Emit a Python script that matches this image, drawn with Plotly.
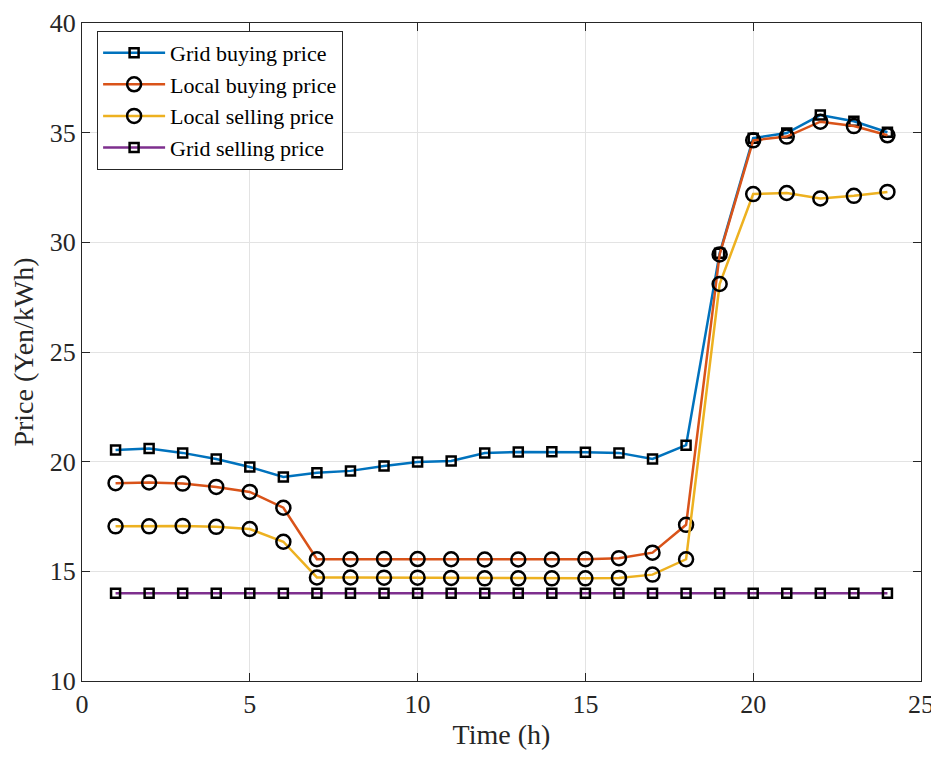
import plotly.graph_objects as go

hours = list(range(1, 25))
grid_buying = [20.53, 20.6, 20.4, 20.12, 19.76, 19.3, 19.49, 19.58, 19.8, 19.98, 20.03, 20.39,
               20.44, 20.45, 20.43, 20.4, 20.12, 20.75, 29.5, 34.75, 34.98, 35.8, 35.52, 35.02]
local_buying = [19.02, 19.05, 19.0, 18.85, 18.62, 17.9, 15.55, 15.55, 15.56, 15.56, 15.55, 15.54,
                15.54, 15.54, 15.55, 15.6, 15.85, 17.12, 29.45, 34.65, 34.82, 35.5, 35.3, 34.88]
local_selling = [17.05, 17.05, 17.07, 17.03, 16.93, 16.35, 14.72, 14.72, 14.71, 14.71, 14.7, 14.68,
                 14.68, 14.68, 14.68, 14.7, 14.85, 15.55, 28.1, 32.2, 32.25, 32.0, 32.12, 32.3]
grid_selling = [14.0] * 24

series = [
    ("Grid buying price", grid_buying, "#0072BD", "square-open", 9),
    ("Local buying price", local_buying, "#D95319", "circle-open", 14),
    ("Local selling price", local_selling, "#EDB120", "circle-open", 14),
    ("Grid selling price", grid_selling, "#7E2F8E", "square-open", 9),
]

fig = go.Figure()
for name, vals, color, sym, size in series:
    fig.add_trace(go.Scatter(
        x=hours, y=vals, name=name, mode="lines+markers",
        line=dict(color=color, width=2.5),
        marker=dict(symbol=sym, size=size, color="black", line=dict(color="black", width=2.5)),
    ))

font = "Liberation Serif, Times New Roman, serif"
fig.update_layout(
    width=931, height=746,
    margin=dict(l=74, r=18, t=15, b=73, autoexpand=False),
    plot_bgcolor="white", paper_bgcolor="white",
    font=dict(family=font, size=26, color="#262626"),
    legend=dict(x=0.018, y=0.988, xanchor="left", yanchor="top",
                bordercolor="#262626", borderwidth=1, bgcolor="white",
                font=dict(size=22, color="black"), tracegroupgap=0, itemwidth=62),
    xaxis=dict(range=[0, 25], dtick=5, showgrid=True, gridcolor="#e3e3e3",
               showline=True, mirror="ticks", linecolor="#262626", linewidth=1,
               ticks="inside", ticklen=8, tickcolor="#262626", zeroline=False,
               automargin=False, ticklabeloverflow="allow",
               title=dict(text="Time (h)", font=dict(size=28, color="#262626"), standoff=6)),
    yaxis=dict(range=[10, 40], dtick=5, showgrid=True, gridcolor="#e3e3e3",
               showline=True, mirror="ticks", linecolor="#262626", linewidth=1,
               ticks="inside", ticklen=8, tickcolor="#262626", zeroline=False,
               automargin=False, ticklabeloverflow="allow",
               title=dict(text="Price (Yen/kWh)", font=dict(size=28, color="#262626"), standoff=8)),
)

fig.write_html("out.html")
